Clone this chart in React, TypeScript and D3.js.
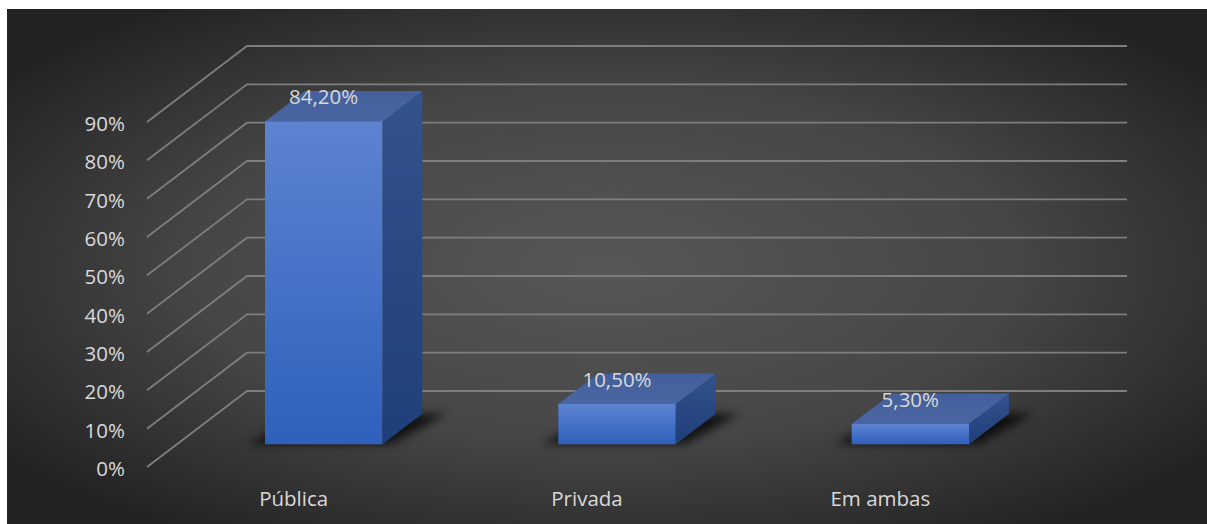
import React from "react";
import * as d3 from "d3";

const categories: string[] = ["Pública", "Privada", "Em ambas"];
const values: number[] = [0.842, 0.105, 0.053];
const valueLabels: string[] = ["84,20%", "10,50%", "5,30%"];
const tickValues: number[] = [0, 0.1, 0.2, 0.3, 0.4, 0.5, 0.6, 0.7, 0.8, 0.9];
const tickLabels: string[] = ["0%", "10%", "20%", "30%", "40%", "50%", "60%", "70%", "80%", "90%"];

const W = 1207;
const H = 524;
const DX = -100; // depth offset (back -> front) in x
const DY = 76; // depth offset in y
const FONT = "'Open Sans', 'Noto Sans', sans-serif";
const FS = 20.5;

export default function App() {
  const x = d3.scaleBand<string>().domain(categories).range([247, 1127]).paddingInner(0).paddingOuter(0);
  const y = d3.scaleLinear().domain([0, 0.9]).range([391, 46]);

  // project 3D point: X on back wall, value v, depth z (0 back, 1 front)
  const P = (X: number, yy: number, z: number): [number, number] => [X + DX * z, yy + DY * z];
  const poly = (pts: [number, number][]) => pts.map((p) => p.join(",")).join(" ");

  const zb = 0.3;
  const zf = 0.7;
  const barFrac = 0.4;

  return (
    <svg width={W} height={H} style={{ position: "absolute", left: 0, top: 0 }}>
      <defs>
        <radialGradient id="bg" cx="0.5" cy="0.5" r="0.62" fx="0.5" fy="0.5">
          <stop offset="0" stopColor="#575757" />
          <stop offset="0.55" stopColor="#464646" />
          <stop offset="1" stopColor="#232323" />
        </radialGradient>
        <linearGradient id="front" x1="0" y1="0" x2="0" y2="1">
          <stop offset="0" stopColor="#5d83d1" />
          <stop offset="1" stopColor="#2f60bc" />
        </linearGradient>
        <linearGradient id="side" x1="0" y1="0" x2="0" y2="1">
          <stop offset="0" stopColor="#34528c" />
          <stop offset="1" stopColor="#1f3f7b" />
        </linearGradient>
        <linearGradient id="top" x1="0" y1="0" x2="0" y2="1">
          <stop offset="0" stopColor="#44609c" />
          <stop offset="1" stopColor="#4a66a2" />
        </linearGradient>
        <filter id="blur" x="-20%" y="-50%" width="140%" height="200%">
          <feGaussianBlur stdDeviation="5" />
        </filter>
      </defs>
      <rect x={0} y={0} width={W} height={H} fill="#ffffff" />
      <rect x={7} y={9} width={W - 7} height={H - 9} fill="url(#bg)" />

      {/* gridlines: back wall + side wall diagonals */}
      {tickValues.map((t, i) => {
        const yy = y(t);
        const [fx, fy] = P(247, yy, 1);
        return (
          <polyline
            key={"g" + i}
            points={poly([[fx, fy], [247, yy], [1127, yy]])}
            fill="none"
            stroke="#7e7e7e"
            strokeWidth={1.8}
          />
        );
      })}

      {/* bars */}
      {categories.map((c, i) => {
        const bw = x.bandwidth();
        const cx = (x(c) as number) + bw / 2;
        const L = cx - (bw * barFrac) / 2;
        const R = cx + (bw * barFrac) / 2;
        const y0 = y(0);
        const y1 = y(values[i]);
        const front = [P(L, y1, zf), P(R, y1, zf), P(R, y0, zf), P(L, y0, zf)] as [number, number][];
        const side = [P(R, y1, zf), P(R, y1, zb), P(R, y0, zb), P(R, y0, zf)] as [number, number][];
        const top = [P(L, y1, zb), P(R, y1, zb), P(R, y1, zf), P(L, y1, zf)] as [number, number][];
        const shadow = [
          P(L - 12, y0 - 4, zf + 0.05),
          P(R + 14, y0 - 4, zf + 0.05),
          P(R + 24, y0, zb),
          P(L, y0, zb),
        ] as [number, number][];
        return (
          <g key={"b" + i}>
            <polygon points={poly(shadow)} fill="#000" opacity={0.75} filter="url(#blur)" />
            <polygon points={poly(side)} fill="url(#side)" />
            <polygon points={poly(top)} fill="url(#top)" />
            <polygon points={poly(front)} fill="url(#front)" />
          </g>
        );
      })}

      {/* value labels */}
      {categories.map((c, i) => {
        const bw = x.bandwidth();
        const cx = (x(c) as number) + bw / 2;
        const [lx, ly] = P(cx, y(values[i]), zf);
        return (
          <text
            key={"v" + i}
            x={lx}
            y={ly - 25}
            textAnchor="middle"
            dominantBaseline="central"
            fill="#d9d9d9"
            fontFamily={FONT}
            fontSize={FS}
          >
            {valueLabels[i]}
          </text>
        );
      })}

      {/* y tick labels */}
      {tickValues.map((t, i) => {
        const [fx, fy] = P(247, y(t), 1);
        return (
          <text
            key={"t" + i}
            x={fx - 22}
            y={fy + 1}
            textAnchor="end"
            dominantBaseline="central"
            fill="#d9d9d9"
            fontFamily={FONT}
            fontSize={FS}
          >
            {tickLabels[i]}
          </text>
        );
      })}

      {/* category labels */}
      {categories.map((c, i) => {
        const bw = x.bandwidth();
        const [cx] = P((x(c) as number) + bw / 2, y(0), 1);
        return (
          <text
            key={"c" + i}
            x={cx}
            y={498}
            textAnchor="middle"
            dominantBaseline="central"
            fill="#d9d9d9"
            fontFamily={FONT}
            fontSize={FS}
          >
            {c}
          </text>
        );
      })}
    </svg>
  );
}
